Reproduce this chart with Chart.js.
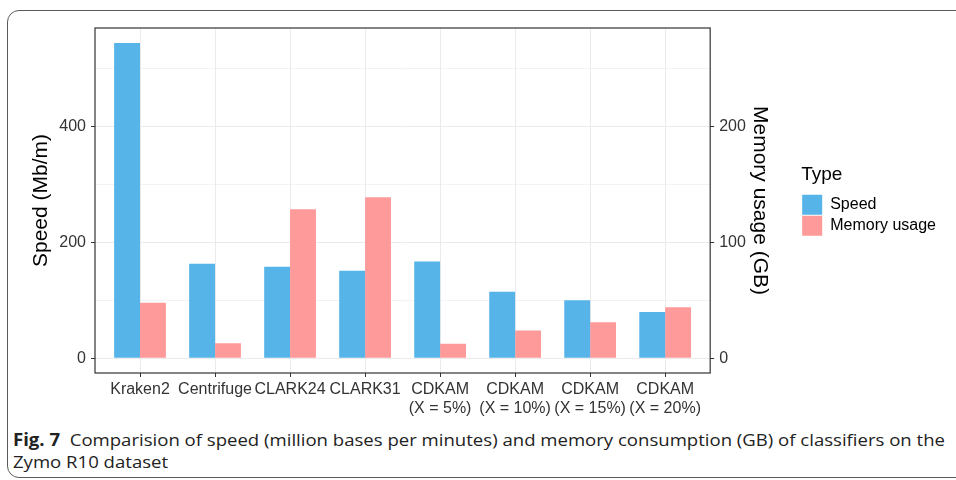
<!DOCTYPE html>
<html>
<head>
<meta charset="utf-8">
<script src="https://cdn.jsdelivr.net/npm/chart.js@4.4.1/dist/chart.umd.min.js"></script>
<style>
  html, body { margin: 0; padding: 0; background: #fff; }
  body { width: 956px; height: 480px; position: relative; overflow: hidden; }
  #frame {
    position: absolute; left: 7px; top: 10px; width: 1000px; height: 466px;
    border: 1.5px solid #5a5a5a; border-radius: 12px;
  }
  #chart-box { position: absolute; left: 0; top: 0; width: 956px; height: 420px; }
  #caption {
    position: absolute; left: 13px; top: 429px; white-space: nowrap;
    font-family: "Open Sans", "Noto Sans", sans-serif; font-size: 17px; line-height: 22px;
    color: #222; transform-origin: 0 0;
  }
  #caption b { font-weight: 700; }
</style>
</head>
<body>
<div id="frame"></div>
<div id="chart-box"><canvas id="chart"></canvas></div>
<div id="caption"><b>Fig. 7</b>&nbsp; Comparision of speed (million bases per minutes) and memory consumption (GB) of classifiers on the<br>Zymo R10 dataset</div>
<script>
// 분류기 이름 (x축)
const classifiers = ['Kraken2', 'Centrifuge', 'CLARK24', 'CLARK31',
  ['CDKAM', '(X = 5%)'], ['CDKAM', '(X = 10%)'], ['CDKAM', '(X = 15%)'], ['CDKAM', '(X = 20%)']];
// 속도 (Mb/m), 왼쪽 축
const speedValues = [544, 163, 158, 151, 167, 115, 100, 80];
// 메모리 사용량 (GB), 오른쪽 축
const memoryValues = [48, 13, 128.5, 139, 12.5, 24, 31, 44];
const seriesNames = ['Speed', 'Memory usage'];
// 눈금: 주눈금은 라벨, 보조눈금은 격자선만
const speedTicks = [0, 200, 400];
const speedMinor = [100, 300, 500];
const memoryTicks = [0, 100, 200];

const FONT = "'Liberation Sans', Arial, sans-serif";
Chart.defaults.font.family = FONT;
Chart.defaults.color = '#333';

// ggplot 패널 테두리
const panelBorder = {
  id: 'panelBorder',
  afterDraw(chart) {
    const a = chart.chartArea, ctx = chart.ctx;
    ctx.save();
    ctx.strokeStyle = '#333';
    ctx.lineWidth = 1.2;
    ctx.strokeRect(a.left, a.top, a.right - a.left, a.bottom - a.top);
    ctx.restore();
  }
};

const xy = vals => vals.map((v, i) => ({ x: i + 1, y: v }));
const asTicks = vals => vals.map(v => ({ value: v }));

new Chart(document.getElementById('chart'), {
  type: 'bar',
  data: {
    datasets: [
      { label: seriesNames[0], data: xy(speedValues), yAxisID: 'y',
        backgroundColor: '#56B4E9', borderWidth: 0 },
      { label: seriesNames[1], data: xy(memoryValues), yAxisID: 'y2',
        backgroundColor: '#FF9A9A', borderWidth: 0 }
    ]
  },
  options: {
    responsive: true,
    maintainAspectRatio: false,
    animation: false,
    categoryPercentage: 0.69,
    barPercentage: 1.0,
    layout: { padding: { left: 25, top: 28, right: 10, bottom: 0 } },
    plugins: {
      tooltip: { enabled: false },
      legend: {
        position: 'right',
        align: 'start',
        title: { display: true, text: 'Type', color: '#000', position: 'start',
          font: { size: 19, family: FONT }, padding: { top: 137, bottom: 6 } },
        labels: { boxWidth: 20, boxHeight: 20, padding: 1, color: '#000',
          font: { size: 16, family: FONT } }
      }
    },
    scales: {
      x: {
        type: 'linear', min: 0.4, max: 8.6, offset: false,
        afterFit: s => { s.height = 47; },
        afterBuildTicks: s => { s.ticks = asTicks(classifiers.map((c, i) => i + 1)); },
        border: { display: false },
        grid: { offset: false, color: '#ebebeb', lineWidth: 1, tickLength: 4, tickColor: '#333' },
        ticks: { autoSkip: false, maxRotation: 0, minRotation: 0,
          padding: 3, color: '#333', font: { size: 16, lineHeight: 1.2 },
          callback: v => classifiers[Math.round(v) - 1] }
      },
      y: {
        position: 'left', min: -25.4, max: 570,
        afterFit: s => { s.width = 70; },
        afterBuildTicks: s => { s.ticks = asTicks([...speedTicks, ...speedMinor].sort((a, b) => a - b)); },
        border: { display: false },
        grid: { color: '#ebebeb', tickLength: 4,
          lineWidth: c => speedTicks.includes(c.tick.value) ? 1 : 0.6,
          tickColor: c => speedTicks.includes(c.tick.value) ? '#333' : 'rgba(0,0,0,0)' },
        ticks: { autoSkip: false, padding: 5, color: '#333', font: { size: 16 },
          callback: v => speedTicks.includes(v) ? String(v) : '' },
        title: { display: true, text: 'Speed (Mb/m)', color: '#000', font: { size: 21 }, padding: { top: 4, bottom: 4 } }
      },
      y2: {
        position: 'right', min: -12.7, max: 285,
        afterFit: s => { s.width = 91; },
        afterBuildTicks: s => { s.ticks = asTicks(memoryTicks); },
        border: { display: false },
        grid: { drawOnChartArea: false, tickLength: 4, tickColor: '#333' },
        ticks: { autoSkip: false, padding: 5, color: '#333', font: { size: 16 } },
        title: { display: true, text: 'Memory usage (GB)', color: '#000', font: { size: 21 }, padding: { top: 29, bottom: 4 } }
      }
    }
  },
  plugins: [panelBorder]
});

// 캡션 폭 맞추기
const cap = document.getElementById('caption');
const w = cap.getBoundingClientRect().width;
cap.style.transform = 'scaleX(' + (932 / w) + ')';
</script>
</body>
</html>
